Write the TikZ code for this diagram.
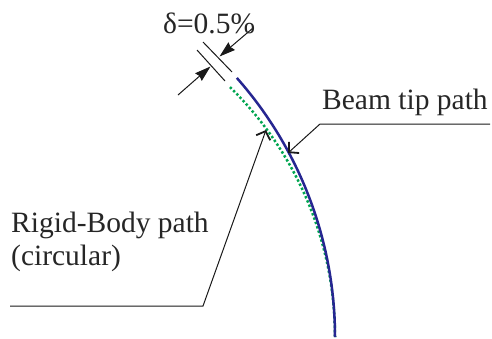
\documentclass[tikz,border=0pt]{standalone}
\usepackage{fontspec}
\setmainfont{Liberation Serif}
\usetikzlibrary{arrows.meta}
\definecolor{beamblue}{RGB}{38,38,145}
\definecolor{rigidgreen}{RGB}{0,165,80}
\tikzset{
  lbl/.style={inner sep=0pt, font=\fontsize{29.5}{33}\selectfont, align=left, text=black!85},
  thinline/.style={line width=1pt, black!90},
  beampath/.style={line width=2.5pt, beamblue},
  rigidpath/.style={line width=2.5pt, rigidgreen, dash pattern=on 2.4pt off 2.2pt},
  dimarrow/.style={thinline, -{Stealth[length=16pt,width=10pt,inset=1.5pt]}},
  leader/.style={thinline, -{Straight Barb[length=7pt,width=15pt,line width=1.8pt]}},
}
\begin{document}
\begin{tikzpicture}[x=1pt,y=-1pt]
\useasboundingbox (0,0) rectangle (492,338);
% paths
\coordinate (bbot) at (335,337);
\draw[rigidpath] (bbot) arc[start angle=0,end angle=-45.6,radius=350];
\draw[beampath] (bbot) arc[start angle=0,end angle=-41.5,radius=391];
% extension lines for delta
\coordinate (e1a) at (203,42);
\coordinate (e1b) at (232,72);
\coordinate (e2a) at (197,50);
\coordinate (e2b) at (225,81);
\draw[thinline] (e1a) -- (e1b);
\draw[thinline] (e2a) -- (e2b);
\coordinate (t1) at (219.5,56.5);
\coordinate (t2) at (210.5,66.5);
\coordinate (s1) at (253,28);
\coordinate (s2) at (178,95);
\draw[dimarrow] (s1) -- (t1);
\draw[dimarrow] (s2) -- (t2);
% labels
\node[lbl, anchor=base west] (delta) at (163,33) {δ=0.5\%};
\node[lbl, anchor=base west] (beam) at (322,109) {Beam tip path};
\node[lbl, anchor=base west] (rigid) at (11,265) {Rigid-Body path\\(circular)};
% leaders
\coordinate (bl1) at (490,124);
\coordinate (bl2) at (320,124);
\coordinate (btip) at (288,153);
\draw[leader] (bl1) -- (bl2) -- (btip);
\coordinate (rl1) at (10,306);
\coordinate (rl2) at (203,306);
\coordinate (rtip) at (266,130);
\draw[leader] (rl1) -- (rl2) -- (rtip);
\end{tikzpicture}
\end{document}
